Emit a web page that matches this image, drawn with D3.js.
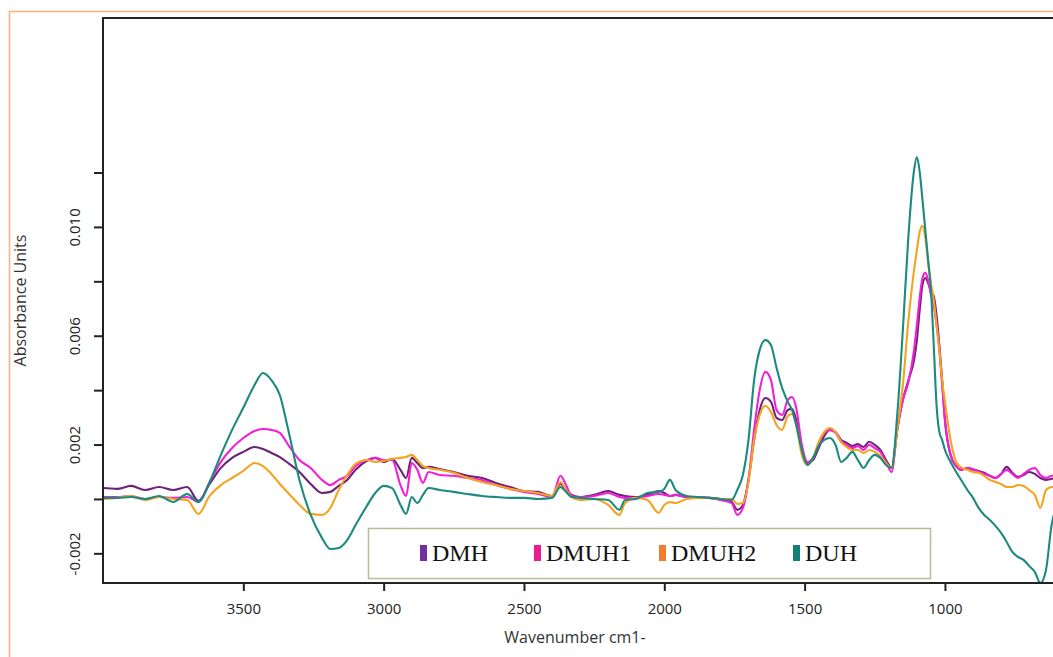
<!DOCTYPE html>
<html>
<head>
<meta charset="utf-8">
<script src="https://cdn.jsdelivr.net/npm/d3@7"></script>
<style>
  html, body { margin: 0; padding: 0; background: #fff; }
  svg { display: block; }
</style>
</head>
<body>
<svg id="chart" width="1053" height="657"></svg>
<script>
/* Wavenumbers (cm-1) shared by every spectrum */
const wavenumbers = [
  4000, 3950, 3900, 3850, 3800, 3750, 3700, 3660, 3620, 3580, 3540, 3500, 3460, 3430, 3400, 3370,
  3340, 3300, 3260, 3220, 3190, 3160, 3130, 3100, 3060, 3030, 3000, 2970, 2940, 2920, 2900, 2880,
  2860, 2840, 2800, 2750, 2700, 2650, 2600, 2550, 2500, 2450, 2400, 2370, 2350, 2330, 2300, 2250,
  2200, 2160, 2140, 2100, 2060, 2020, 2000, 1980, 1960, 1920, 1880, 1840, 1800, 1760, 1740, 1720,
  1700, 1680, 1660, 1640, 1620, 1600, 1580, 1560, 1545, 1530, 1510, 1490, 1470, 1450, 1430, 1410,
  1390, 1370, 1350, 1330, 1310, 1290, 1270, 1250, 1230, 1210, 1190, 1170, 1150, 1130, 1110, 1100,
  1090, 1080, 1070, 1060, 1050, 1040, 1030, 1020, 1010, 1000, 980, 960, 940, 920, 900, 880,
  860, 840, 820, 800, 780, 760, 740, 720, 700, 680, 660, 640, 620, 600,
];

const dmh = [
  0.00040, 0.00037, 0.00048, 0.00033, 0.00044, 0.00033, 0.00044, -0.00007, 0.00055, 0.00114, 0.00151, 0.00173, 0.00191, 0.00184, 0.00169, 0.00154,
  0.00132, 0.00099, 0.00055, 0.00022, 0.00026, 0.00048, 0.00070, 0.00107, 0.00140, 0.00151, 0.00136, 0.00147, 0.00107, 0.00077, 0.00151, 0.00132,
  0.00114, 0.00118, 0.00110, 0.00099, 0.00085, 0.00077, 0.00059, 0.00044, 0.00029, 0.00026, 0.00011, 0.00055, 0.00033, 0.00015, 0.00007, 0.00015,
  0.00029, 0.00015, 0.00011, 0.00007, 0.00015, 0.00029, 0.00022, 0.00011, 0.00015, 0.00007, 0.00007, 0.00004, 0.00000, -0.00011, -0.00040, -0.00022,
  0.00070, 0.00217, 0.00327, 0.00371, 0.00357, 0.00298, 0.00290, 0.00327, 0.00331, 0.00290, 0.00180, 0.00132, 0.00143, 0.00187, 0.00232, 0.00254,
  0.00246, 0.00217, 0.00206, 0.00195, 0.00202, 0.00191, 0.00210, 0.00199, 0.00180, 0.00143, 0.00114, 0.00254, 0.00364, 0.00437, 0.00511, 0.00584,
  0.00695, 0.00787, 0.00812, 0.00794, 0.00765, 0.00746, 0.00676, 0.00566, 0.00437, 0.00290, 0.00162, 0.00121, 0.00107, 0.00114, 0.00107, 0.00103,
  0.00096, 0.00085, 0.00077, 0.00092, 0.00118, 0.00096, 0.00081, 0.00088, 0.00099, 0.00092, 0.00077, 0.00070, 0.00074, 0.00077,
];

const dmuh1 = [
  0.00007, 0.00007, 0.00011, 0.00000, 0.00007, 0.00004, 0.00007, -0.00011, 0.00062, 0.00136, 0.00187, 0.00224, 0.00250, 0.00257, 0.00254, 0.00243,
  0.00199, 0.00143, 0.00114, 0.00070, 0.00051, 0.00070, 0.00085, 0.00121, 0.00143, 0.00151, 0.00143, 0.00143, 0.00051, 0.00011, 0.00132, 0.00107,
  0.00059, 0.00099, 0.00088, 0.00085, 0.00077, 0.00070, 0.00051, 0.00037, 0.00026, 0.00018, 0.00007, 0.00085, 0.00051, 0.00011, 0.00007, 0.00011,
  0.00022, 0.00007, 0.00004, 0.00004, 0.00011, 0.00018, 0.00015, 0.00011, 0.00015, 0.00007, 0.00007, 0.00004, -0.00004, -0.00015, -0.00059, -0.00033,
  0.00070, 0.00254, 0.00401, 0.00467, 0.00437, 0.00327, 0.00309, 0.00364, 0.00375, 0.00335, 0.00199, 0.00136, 0.00151, 0.00199, 0.00243, 0.00254,
  0.00243, 0.00210, 0.00199, 0.00187, 0.00195, 0.00180, 0.00199, 0.00187, 0.00173, 0.00136, 0.00099, 0.00254, 0.00364, 0.00430, 0.00548, 0.00640,
  0.00739, 0.00812, 0.00831, 0.00805, 0.00750, 0.00713, 0.00640, 0.00548, 0.00419, 0.00290, 0.00162, 0.00121, 0.00107, 0.00114, 0.00110, 0.00099,
  0.00092, 0.00085, 0.00077, 0.00092, 0.00107, 0.00092, 0.00077, 0.00092, 0.00107, 0.00114, 0.00088, 0.00077, 0.00085, 0.00085,
];

const dmuh2 = [
  0.00000, 0.00004, 0.00011, -0.00004, 0.00007, 0.00000, -0.00004, -0.00055, 0.00011, 0.00051, 0.00077, 0.00103, 0.00132, 0.00121, 0.00092, 0.00055,
  0.00022, -0.00022, -0.00055, -0.00059, -0.00033, 0.00033, 0.00088, 0.00129, 0.00143, 0.00136, 0.00140, 0.00147, 0.00151, 0.00154, 0.00162, 0.00143,
  0.00121, 0.00114, 0.00107, 0.00096, 0.00077, 0.00062, 0.00051, 0.00037, 0.00029, 0.00022, 0.00011, 0.00062, 0.00033, 0.00007, -0.00004, 0.00000,
  -0.00022, -0.00059, -0.00015, 0.00004, -0.00004, -0.00051, -0.00022, -0.00011, -0.00015, 0.00000, 0.00004, 0.00004, 0.00000, 0.00000, -0.00018, -0.00015,
  0.00062, 0.00217, 0.00309, 0.00342, 0.00320, 0.00272, 0.00254, 0.00305, 0.00312, 0.00272, 0.00162, 0.00125, 0.00151, 0.00210, 0.00246, 0.00261,
  0.00246, 0.00210, 0.00191, 0.00180, 0.00180, 0.00169, 0.00180, 0.00173, 0.00158, 0.00132, 0.00114, 0.00254, 0.00419, 0.00658, 0.00842, 0.00915,
  0.00981, 0.01004, 0.00959, 0.00871, 0.00794, 0.00732, 0.00640, 0.00548, 0.00437, 0.00357, 0.00217, 0.00136, 0.00114, 0.00107, 0.00099, 0.00096,
  0.00085, 0.00070, 0.00062, 0.00055, 0.00044, 0.00044, 0.00051, 0.00048, 0.00033, 0.00015, -0.00033, 0.00033, 0.00044, 0.00040,
];

const duh = [
  0.00004, 0.00004, 0.00007, 0.00000, 0.00011, -0.00011, 0.00018, -0.00011, 0.00062, 0.00162, 0.00254, 0.00335, 0.00419, 0.00463, 0.00437, 0.00382,
  0.00254, 0.00070, -0.00059, -0.00143, -0.00184, -0.00180, -0.00151, -0.00096, -0.00026, 0.00022, 0.00048, 0.00040, -0.00022, -0.00055, 0.00007, -0.00015,
  0.00015, 0.00040, 0.00033, 0.00026, 0.00018, 0.00011, 0.00007, 0.00004, 0.00004, 0.00000, 0.00004, 0.00044, 0.00026, 0.00007, 0.00004, 0.00000,
  -0.00004, -0.00040, -0.00004, 0.00000, 0.00022, 0.00026, 0.00037, 0.00070, 0.00033, 0.00011, 0.00007, 0.00004, 0.00000, -0.00004, 0.00033, 0.00088,
  0.00217, 0.00437, 0.00548, 0.00584, 0.00566, 0.00482, 0.00408, 0.00357, 0.00327, 0.00272, 0.00180, 0.00125, 0.00151, 0.00195, 0.00217, 0.00224,
  0.00199, 0.00136, 0.00151, 0.00173, 0.00143, 0.00114, 0.00143, 0.00162, 0.00151, 0.00125, 0.00114, 0.00309, 0.00621, 0.00970, 0.01209, 0.01257,
  0.01202, 0.01099, 0.00989, 0.00879, 0.00768, 0.00566, 0.00346, 0.00246, 0.00217, 0.00180, 0.00136, 0.00099, 0.00066, 0.00033, 0.00004, -0.00033,
  -0.00059, -0.00077, -0.00099, -0.00125, -0.00158, -0.00195, -0.00213, -0.00224, -0.00246, -0.00268, -0.00309, -0.00261, -0.00096, -0.00022,
];

const seriesNames = ['DMH', 'DMUH1', 'DMUH2', 'DUH'];
const seriesValues = [dmh, dmuh1, dmuh2, duh];

const xTicks = [3500, 3000, 2500, 2000, 1500, 1000];
const yTicks = [-0.002, 0, 0.002, 0.004, 0.006, 0.008, 0.010, 0.012];
const yTickLabels = ['-0.002', '', '0.002', '', '0.006', '', '0.010', ''];

/* Look of each series: line colour and legend swatch colour */
const lineColors = ['#6e2277', '#f51ed8', '#f5a31f', '#1b8a7f'];
const swatchColors = ['#7030a0', '#ec1c8e', '#ef7d2e', '#138074'];

/* Frame settings */
const width = 1053;
const height = 657;
const margin = { top: 18, right: 0, bottom: 74, left: 103, };
const fontSans = '"Open Sans", "Noto Sans", sans-serif';

const svg = d3.select('#chart');

/* Page frame */
svg.append('rect')
  .attr('x', 9.5)
  .attr('y', 11.5)
  .attr('width', width + 20)
  .attr('height', height + 20)
  .attr('fill', 'none')
  .attr('stroke', '#f8b286')
  .attr('stroke-width', 1.6);

const x = d3.scaleLinear()
  .domain([4000, 615])
  .range([margin.left, width - margin.right]);

const y = d3.scaleLinear()
  .domain([-0.00309, 0.01768])
  .range([height - margin.bottom, margin.top]);

const plotBottom = height - margin.bottom;

svg.append('clipPath')
  .attr('id', 'plot-clip')
  .append('rect')
  .attr('x', margin.left)
  .attr('y', margin.top)
  .attr('width', width - margin.left)
  .attr('height', plotBottom - margin.top);

/* Spectra */
const line = d3.line()
  .x(d => x(d[0]))
  .y(d => y(d[1]))
  .curve(d3.curveMonotoneX);

svg.append('g')
  .attr('clip-path', 'url(#plot-clip)')
  .selectAll('path')
  .data(seriesValues)
  .enter()
  .append('path')
  .attr('d', vals => line(wavenumbers.map((w, i) => [w, vals[i]])))
  .attr('fill', 'none')
  .attr('stroke', (d, i) => lineColors[i])
  .attr('stroke-width', 2.1)
  .attr('stroke-linejoin', 'round');

/* Axes */
const xAxis = d3.axisBottom(x).tickValues(xTicks).tickSize(8).tickPadding(12).tickFormat(d3.format('d'));
const yAxis = d3.axisLeft(y).tickValues(yTicks).tickSize(9).tickFormat((d, i) => yTickLabels[i]);

const xAxisG = svg.append('g')
  .attr('transform', `translate(0, ${plotBottom})`)
  .call(xAxis);
xAxisG.select('.domain').remove();
xAxisG.selectAll('line').attr('stroke', '#222').attr('stroke-width', 2);
xAxisG.selectAll('text')
  .attr('font-family', fontSans)
  .attr('font-size', 15)
  .attr('fill', '#222');

const yAxisG = svg.append('g')
  .attr('transform', `translate(${margin.left}, 0)`)
  .call(yAxis);
yAxisG.select('.domain').remove();
yAxisG.selectAll('line').attr('stroke', '#222').attr('stroke-width', 2);
yAxisG.selectAll('text')
  .attr('x', null)
  .attr('dy', null)
  .attr('transform', 'translate(-23, 0) rotate(-90)')
  .attr('text-anchor', 'middle')
  .attr('font-family', fontSans)
  .attr('font-size', 15)
  .attr('fill', '#222');

/* Plot box (open on the right, cut by the page) */
svg.append('path')
  .attr('d', `M${width + 5},${margin.top}H${margin.left}V${plotBottom}H${width + 5}`)
  .attr('fill', 'none')
  .attr('stroke', '#222')
  .attr('stroke-width', 2);

/* Axis titles */
svg.append('text')
  .attr('transform', `translate(26, ${(margin.top + plotBottom) / 2}) rotate(-90)`)
  .attr('text-anchor', 'middle')
  .attr('font-family', fontSans)
  .attr('font-size', 16)
  .attr('fill', '#333')
  .text('Absorbance Units');

svg.append('text')
  .attr('x', 575)
  .attr('y', 643)
  .attr('text-anchor', 'middle')
  .attr('font-family', fontSans)
  .attr('font-size', 16)
  .attr('fill', '#333')
  .text('Wavenumber cm1-');

/* Legend */
const legend = svg.append('g');
legend.append('rect')
  .attr('x', 368.5)
  .attr('y', 528.5)
  .attr('width', 562)
  .attr('height', 50)
  .attr('fill', '#fff')
  .attr('stroke', '#b3bf97')
  .attr('stroke-width', 1.5);

const legendX = [420, 534, 659, 793];
const items = legend.selectAll('g.item')
  .data(seriesNames)
  .enter()
  .append('g')
  .attr('class', 'item')
  .attr('transform', (d, i) => `translate(${legendX[i]}, 553)`);

items.append('rect')
  .attr('x', 0)
  .attr('y', -8)
  .attr('width', 7)
  .attr('height', 16)
  .attr('fill', (d, i) => swatchColors[i]);

items.append('text')
  .attr('x', 12)
  .attr('y', 8)
  .attr('font-family', '"Liberation Serif", "Times New Roman", serif')
  .attr('font-size', 24)
  .attr('fill', '#111')
  .text(d => d);
</script>
</body>
</html>
